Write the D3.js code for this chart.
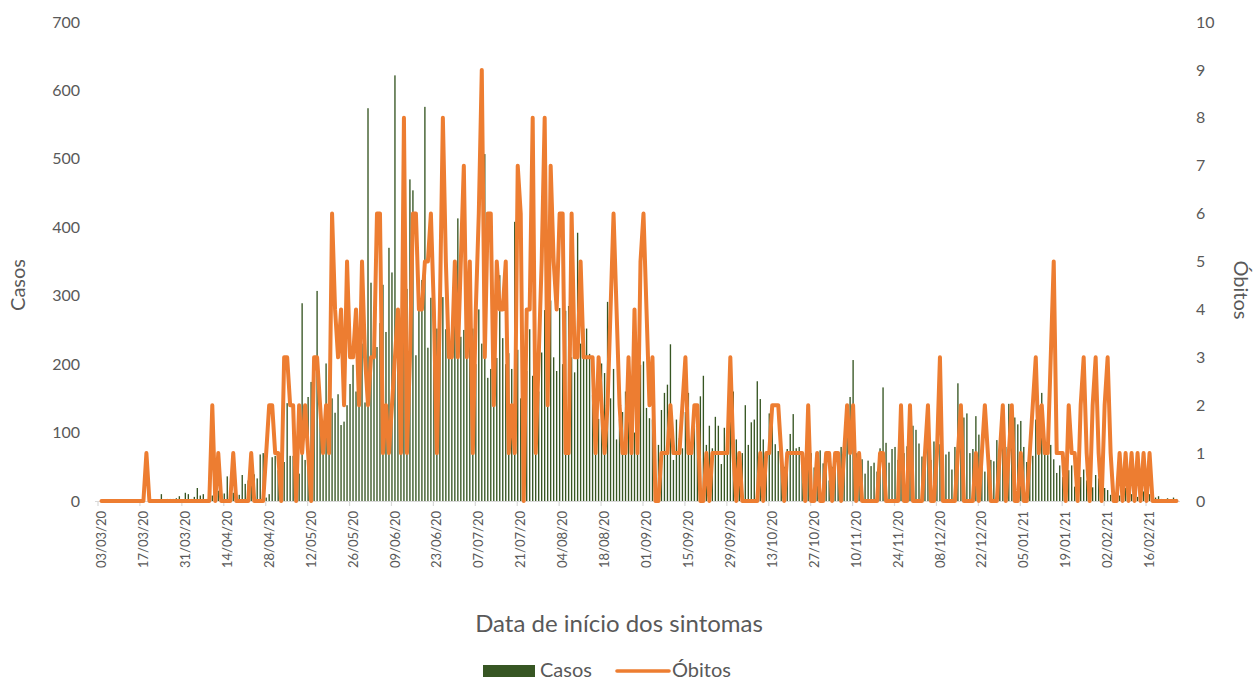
<!DOCTYPE html>
<html>
<head>
<meta charset="utf-8">
<script src="https://cdn.jsdelivr.net/npm/d3@7"></script>
<style>
  body { margin: 0; background: #fff; }
  svg { font-family: Lato, "Open Sans", sans-serif; }
</style>
</head>
<body>
<div id="chart"></div>
<script>
// daily series, 03/03/20 .. 25/02/21
const casos = [
  0,0,0,0,0,0,0,2,0,0,
  0,0,0,0,0,0,0,0,0,0,
  10,0,3,3,3,4,7,2,12,10,
  3,6,19,8,10,3,5,8,4,15,
  13,11,36,5,12,18,9,38,25,30,
  34,39,33,68,70,5,10,64,66,45,
  35,57,143,66,66,30,40,289,60,152,
  174,136,307,139,99,201,120,150,129,156,
  111,116,140,171,199,160,180,230,144,574,
  319,226,225,260,316,247,370,334,622,260,
  150,280,310,470,454,213,279,323,576,224,
  297,240,252,300,298,251,230,220,260,413,
  240,250,210,230,252,200,280,230,507,180,
  193,180,209,330,238,200,216,193,408,221,
  150,220,190,251,183,210,160,217,279,250,
  293,210,190,282,200,278,285,210,188,392,
  230,252,252,215,155,158,120,201,187,291,
  150,193,90,120,130,160,120,79,100,108,
  199,204,136,121,119,40,82,133,158,170,
  229,60,119,92,77,130,158,80,110,140,
  153,183,82,110,77,123,110,54,107,70,
  140,160,90,57,70,140,82,115,119,175,
  149,90,57,128,124,83,73,60,50,76,
  98,127,77,79,50,60,80,70,49,60,
  74,55,70,30,50,60,70,79,72,100,
  152,206,70,72,61,40,59,51,56,43,
  77,166,85,56,76,79,60,45,70,80,
  90,110,104,84,65,50,80,60,87,60,
  83,50,68,72,46,79,172,90,122,128,
  70,76,124,97,70,43,67,60,58,89,
  70,90,79,142,141,122,112,117,79,57,
  70,66,119,140,158,80,67,82,61,41,
  52,35,19,45,52,21,11,35,46,30,
  23,20,38,33,33,19,16,9,6,10,
  8,6,19,6,10,8,6,10,14,8,
  10,6,5,7,3,2,4,2,5,3
];

const obitos = [
  0,0,0,0,0,0,0,0,0,0,
  0,0,0,0,0,1,0,0,0,0,
  0,0,0,0,0,0,0,0,0,0,
  0,0,0,0,0,0,0,2,0,1,
  0,0,0,0,1,0,0,0,0,0,
  1,0,0,0,0,1,2,2,1,1,
  0,3,3,2,2,0,2,1,2,1,
  0,3,3,2,1,2,1,6,4,3,
  4,2,5,3,3,4,2,5,3,2,
  3,3,6,6,1,2,1,2,3,4,
  1,8,1,3,6,6,4,4,5,5,
  6,4,1,4,8,5,3,3,5,3,
  5,7,3,5,1,4,6,9,3,6,
  6,2,5,4,4,5,1,2,1,7,
  6,0,4,4,8,1,3,5,8,2,
  7,5,4,6,6,1,1,6,3,3,
  5,3,3,3,3,1,3,2,1,2,
  4,6,4,2,1,1,3,1,4,1,
  5,6,4,2,3,0,0,1,1,1,
  2,1,1,1,2,3,1,1,2,2,
  0,0,1,0,1,1,1,1,1,1,
  3,1,0,1,0,0,0,0,0,0,
  1,0,1,1,2,2,2,1,0,1,
  1,1,1,1,1,0,2,0,0,1,
  0,0,1,1,0,1,1,0,1,2,
  1,2,0,1,0,0,0,0,0,0,
  1,1,0,0,0,0,0,2,0,0,
  2,0,0,0,0,1,2,0,0,1,
  3,0,0,0,0,0,1,2,0,0,
  0,0,1,0,1,2,1,0,0,0,
  1,2,0,1,2,0,0,1,0,0,
  1,2,3,1,2,1,1,3,5,1,
  1,1,0,2,1,1,0,2,3,1,
  0,2,3,1,0,2,3,1,0,0,
  1,0,1,0,1,0,1,0,1,0,
  1,0,0,0,0,0,0,0,0,0
];

const tickLabels = ['03/03/20','17/03/20','31/03/20','14/04/20','28/04/20','12/05/20','26/05/20',
  '09/06/20','23/06/20','07/07/20','21/07/20','04/08/20','18/08/20','01/09/20','15/09/20',
  '29/09/20','13/10/20','27/10/20','10/11/20','24/11/20','08/12/20','22/12/20','05/01/21',
  '19/01/21','02/02/21','16/02/21'];
const tickStep = 14;
const leftTicks = [0, 100, 200, 300, 400, 500, 600, 700];
const rightTicks = [0, 1, 2, 3, 4, 5, 6, 7, 8, 9, 10];

const W = 1253, H = 681;
const plot = { left: 100, right: 1178, top: 22, bottom: 501 };
const green = '#375623', orange = '#ED7D31', textCol = '#595959', gridCol = '#D9D9D9';

const svg = d3.select('#chart').append('svg')
  .attr('width', W).attr('height', H);

const days = d3.range(casos.length);

const x = d3.scaleBand()
  .domain(days)
  .range([plot.left, plot.right])
  .paddingInner(0.55)
  .paddingOuter(0.275);
const step = x.step();
const cx = d => x(d) + x.bandwidth() / 2;

const yL = d3.scaleLinear().domain([0, 700]).range([plot.bottom, plot.top]);
const yR = d3.scaleLinear().domain([0, 10]).range([plot.bottom, plot.top]);

// Bars
svg.append('g')
  .selectAll('rect')
  .data(days)
  .enter()
  .append('rect')
  .attr('x', d => x(d))
  .attr('y', d => yL(casos[d]))
  .attr('width', x.bandwidth())
  .attr('height', d => plot.bottom - yL(casos[d]))
  .attr('fill', green);

// X axis line
svg.append('line')
  .attr('x1', plot.left - 5).attr('x2', plot.right + 2)
  .attr('y1', plot.bottom + 0.5).attr('y2', plot.bottom + 0.5)
  .attr('stroke', gridCol).attr('stroke-width', 1.2);

// ticks + labels
const tg = svg.append('g');
tickLabels.forEach((lab, i) => {
  const d = i * tickStep;
  const tx = cx(d);
  tg.append('line')
    .attr('x1', tx - step * 0.5 - 2).attr('x2', tx - step * 0.5 - 2)
    .attr('y1', plot.bottom).attr('y2', plot.bottom + 5)
    .attr('stroke', gridCol).attr('stroke-width', 1.2);
  tg.append('text')
    .attr('transform', `translate(${tx},${plot.bottom + 10}) rotate(-90)`)
    .attr('text-anchor', 'end')
    .attr('dy', '0.35em')
    .attr('fill', textCol)
    .style('font-size', '13px')
    .text(lab);
});

// Left axis labels
svg.append('g').selectAll('text')
  .data(leftTicks).enter().append('text')
  .attr('x', 80).attr('y', d => yL(d))
  .attr('dy', '0.35em').attr('text-anchor', 'end')
  .attr('fill', textCol).style('font-size', '16px')
  .text(d => d);

// Right axis labels
svg.append('g').selectAll('text')
  .data(rightTicks).enter().append('text')
  .attr('x', 1196).attr('y', d => yR(d))
  .attr('dy', '0.35em').attr('text-anchor', 'start')
  .attr('fill', textCol).style('font-size', '16px')
  .text(d => d);

// Line
const line = d3.line()
  .x(d => cx(d))
  .y(d => yR(obitos[d]));

svg.append('path')
  .datum(days)
  .attr('d', line)
  .attr('fill', 'none')
  .attr('stroke', orange)
  .attr('stroke-width', 4)
  .attr('stroke-linejoin', 'round')
  .attr('stroke-linecap', 'round');

// Axis titles
svg.append('text')
  .attr('transform', 'translate(25,285) rotate(-90)')
  .attr('text-anchor', 'middle')
  .attr('fill', textCol).style('font-size', '20px')
  .text('Casos');

svg.append('text')
  .attr('transform', 'translate(1234,290) rotate(90)')
  .attr('text-anchor', 'middle')
  .attr('fill', textCol).style('font-size', '20px')
  .text('Óbitos');

svg.append('text')
  .attr('x', 619).attr('y', 632)
  .attr('text-anchor', 'middle')
  .attr('fill', textCol).style('font-size', '24px')
  .text('Data de início dos sintomas');

// Legend
const lg = svg.append('g');
lg.append('rect')
  .attr('x', 483).attr('y', 665).attr('width', 52).attr('height', 12)
  .attr('fill', green);
lg.append('text')
  .attr('x', 540).attr('y', 677)
  .attr('fill', textCol).style('font-size', '20px')
  .text('Casos');
lg.append('line')
  .attr('x1', 617).attr('x2', 669).attr('y1', 671).attr('y2', 671)
  .attr('stroke', orange).attr('stroke-width', 3.6).attr('stroke-linecap', 'round');
lg.append('text')
  .attr('x', 672).attr('y', 677)
  .attr('fill', textCol).style('font-size', '20px')
  .text('Óbitos');
</script>
</body>
</html>
